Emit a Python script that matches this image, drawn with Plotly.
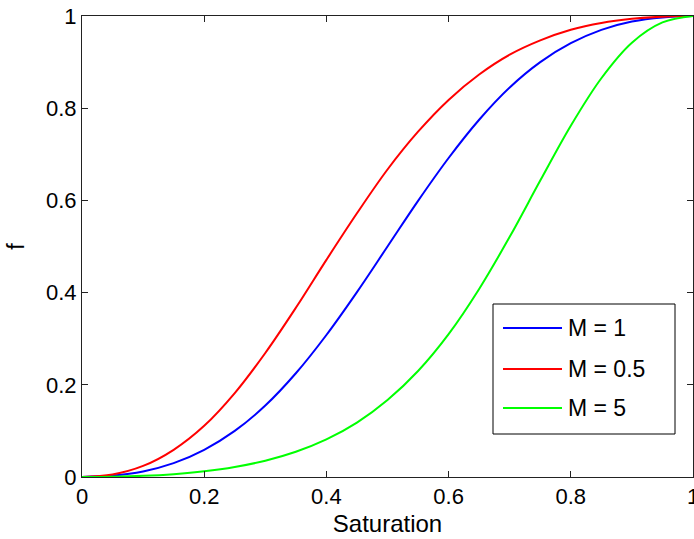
import plotly.graph_objects as go

saturation = [0.0, 0.05, 0.10, 0.15, 0.20, 0.25, 0.30, 0.35, 0.40, 0.45, 0.50,
              0.55, 0.60, 0.65, 0.70, 0.75, 0.80, 0.85, 0.90, 0.95, 1.0]

f_m1 = [0.0, 0.003, 0.012, 0.030, 0.059, 0.100, 0.155, 0.225, 0.308, 0.401, 0.500,
        0.599, 0.692, 0.775, 0.845, 0.900, 0.941, 0.970, 0.988, 0.997, 1.0]

f_m05 = [0.0, 0.0055, 0.024, 0.059, 0.111, 0.182, 0.269, 0.367, 0.471, 0.572, 0.667,
         0.749, 0.818, 0.873, 0.916, 0.947, 0.970, 0.985, 0.994, 0.9986, 1.0]

f_m5 = [0.0, 0.0006, 0.0025, 0.0062, 0.0123, 0.0217, 0.0354, 0.0548, 0.0816, 0.118, 0.167,
        0.230, 0.310, 0.408, 0.521, 0.643, 0.762, 0.865, 0.942, 0.986, 1.0]

series_names = ["M = 1", "M = 0.5", "M = 5"]
series_values = [f_m1, f_m05, f_m5]
series_colors = ["#0000FF", "#FF0000", "#00FF00"]

x_ticks = [0, 0.2, 0.4, 0.6, 0.8, 1]
x_tick_labels = ["0", "0.2", "0.4", "0.6", "0.8", "1"]
y_ticks = [0, 0.2, 0.4, 0.6, 0.8, 1]
y_tick_labels = ["0", "0.2", "0.4", "0.6", "0.8", "1"]

FONT = "Liberation Sans, Arial, sans-serif"

fig = go.Figure()
for name, vals, col in zip(series_names, series_values, series_colors):
    fig.add_trace(go.Scatter(
        x=saturation, y=vals, mode="lines", name=name,
        line=dict(color=col, width=2, shape="spline", smoothing=1.0),
        showlegend=False,
    ))

W, H = 694, 539
ml, mr, mt, mb = 82, 1, 16, 62
pw, ph = W - ml - mr, H - mt - mb

def px(x):
    return (x - ml) / pw

def py(y):
    return (H - mb - y) / ph

shapes = [dict(type="rect", xref="paper", yref="paper",
               x0=px(493), x1=px(675), y0=py(434), y1=py(304),
               line=dict(color="black", width=1), fillcolor="white", layer="above")]
annotations = []
rows = [328, 369, 408]
for name, col, ry in zip(series_names, series_colors, rows):
    shapes.append(dict(type="line", xref="paper", yref="paper",
                       x0=px(503), x1=px(562), y0=py(ry), y1=py(ry),
                       line=dict(color=col, width=2), layer="above"))
    annotations.append(dict(xref="paper", yref="paper", x=px(566), y=py(ry),
                            text=name, showarrow=False, xanchor="left", yanchor="middle",
                            font=dict(family=FONT, size=23, color="black")))

axis_common = dict(showgrid=False, zeroline=False, showline=True, linecolor="#222222",
                   linewidth=1, mirror="ticks", ticks="inside", ticklen=6,
                   tickcolor="#222222", tickfont=dict(family=FONT, size=22, color="black"),
                   ticklabeloverflow="allow", automargin=False)

fig.update_layout(
    width=W, height=H,
    margin=dict(l=ml, r=mr, t=mt, b=mb, autoexpand=False),
    paper_bgcolor="white", plot_bgcolor="white",
    xaxis=dict(range=[0, 1], tickvals=x_ticks, ticktext=x_tick_labels,
               title=dict(text="Saturation", font=dict(family=FONT, size=24, color="black"), standoff=6),
               **axis_common),
    yaxis=dict(range=[0, 1], tickvals=y_ticks, ticktext=y_tick_labels,
               title=dict(text="f", font=dict(family=FONT, size=23, color="black"), standoff=14),
               **axis_common),
    shapes=shapes, annotations=annotations,
    showlegend=False,
)

fig.write_html("out.html")
